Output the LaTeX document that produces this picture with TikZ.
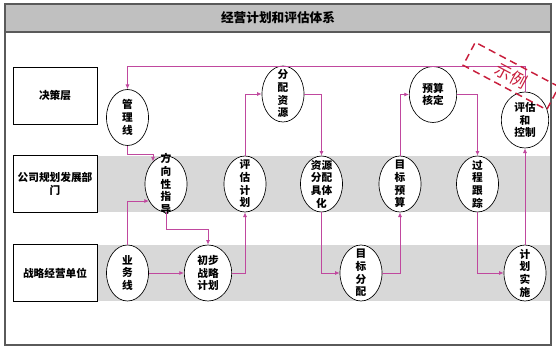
\documentclass[tikz,border=0pt]{standalone}
\usepackage{fontspec}
\setmainfont{Noto Sans CJK SC}
\usetikzlibrary{shapes.geometric,arrows.meta,calc}
\definecolor{FlowPink}{RGB}{192,72,158}
\definecolor{FrameGray}{RGB}{90,90,90}
\definecolor{BandGray}{RGB}{216,216,216}
\definecolor{TitleGray}{RGB}{192,192,192}
\definecolor{SampleRed}{RGB}{200,30,60}
\tikzset{
  lvbox/.style={draw=black,fill=white,minimum width=63pt,minimum height=42.5pt,
               font=\fontsize{8}{9.5}\selectfont\bfseries,align=center,inner sep=1pt},
  oval/.style={ellipse,draw=black,fill=white,minimum width=31.5pt,
               minimum height=42pt,inner sep=0pt,line width=0.5pt},
  woval/.style={oval,minimum width=35.5pt},
  otext/.style={font=\fontsize{8}{9.5}\selectfont\bfseries,align=center,inner sep=0pt},
  link/.style={-{Latex[length=3.5pt,width=3pt]},FlowPink,line width=0.6pt},
  demobox/.style={draw=SampleRed,dashed,dash pattern=on 5.5pt off 3.5pt,line width=1.1pt,
               rotate=-28,minimum width=71pt,minimum height=19.5pt,inner sep=0pt,
               text=SampleRed,font=\fontsize{12.5}{12.5}\selectfont},
}
\begin{document}
\begin{tikzpicture}[x=0.75pt,y=-0.75pt]
  \path[use as bounding box,clip] (0,0) rectangle (556,349);
  % frame and title bar
  \fill[TitleGray] (5,4) rectangle (551,32);
  \fill[BandGray] (97,156) rectangle (551,212);
  \fill[BandGray] (97,245) rectangle (551,301);
  \draw[FrameGray,line width=0.8pt] (5,4) rectangle (551,345);
  \draw[FrameGray,line width=0.8pt] (5,32) -- (551,32);
  \node[font=\fontsize{9.5}{9.5}\selectfont\bfseries] (title) at (278,18) {经营计划和评估体系};
  % levels
  \node[lvbox] (dec) at (55,95.5) {决策层};
  \node[lvbox] (dept) at (55,184) {公司规划发展部\\门};
  \node[lvbox] (unit) at (55,273) {战略经营单位};
  % steps
  \node[oval,label={[otext]center:管\\理\\线}] (gl) at (127.5,117.5) {};
  \node[oval,label={[otext]center:方\\向\\性\\指\\导}] (fx) at (166,184) {};
  \node[oval,label={[otext]center:业\\务\\线}] (yw) at (127.5,273) {};
  \node[woval,label={[otext]center:初步\\战略\\计划}] (cb) at (208,273) {};
  \node[oval,label={[otext]center:评\\估\\计\\划}] (pg) at (245,184) {};
  \node[oval,label={[otext]center:分\\配\\资\\源}] (fp) at (283,94) {};
  \node[oval,label={[otext]center:资源\\分配\\具体\\化}] (jt) at (321.5,184) {};
  \node[oval,label={[otext]center:目\\标\\分\\配}] (mf) at (361,273) {};
  \node[oval,label={[otext]center:目\\标\\预\\算}] (my) at (400,184) {};
  \node[woval,label={[otext]center:预算\\核定}] (hd) at (433,94.5) {};
  \node[oval,label={[otext]center:过\\程\\跟\\踪}] (gz) at (477.5,184) {};
  \node[oval,label={[otext]center:计\\划\\实\\施}] (ss) at (525,273) {};
  \node[woval,label={[otext]center:评估\\和\\控制}] (kz) at (525,120) {};
  % flow
  \draw[link] (kz.north) -- ++(0,-25) -| (gl.north);
  \draw[link] (gl.south) -- ++(0,9) -| (fx.120);
  \draw[link] (yw.north) |- (fx.225);
  \draw[link] (fx.south) -- ++(0,17) -| (cb.north);
  \draw[link] (yw.east) -- (cb.west);
  \draw[link] (cb.east) -| (pg.south);
  \draw[link] (pg.north) |- (fp.west);
  \draw[link] (fp.east) -| (jt.north);
  \draw[link] (jt.south) |- (mf.west);
  \draw[link] (mf.east) -| (my.south);
  \draw[link] (my.north) |- (hd.west);
  \draw[link] (hd.east) -| (gz.north);
  \draw[link] (gz.south) |- (ss.west);
  \draw[link] (ss.north) -- (kz.south);
  % sample stamp
  \node[demobox] (demo) at (511,76) {示例};
\end{tikzpicture}
\end{document}
